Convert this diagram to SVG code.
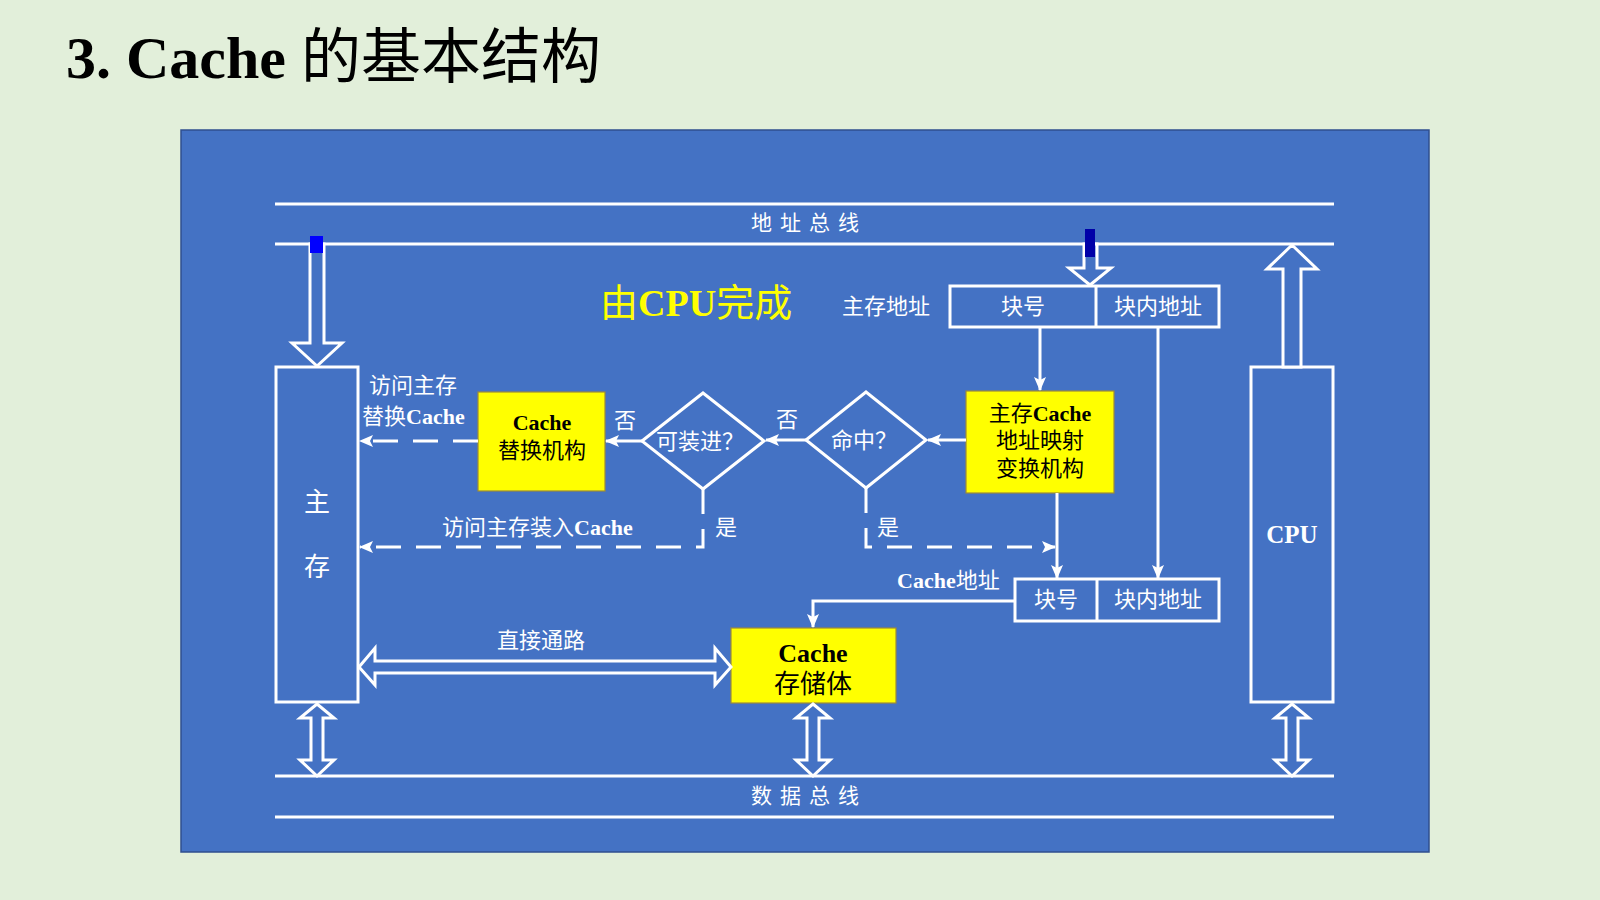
<svg xmlns="http://www.w3.org/2000/svg" width="1600" height="900" viewBox="0 0 1600 900">
<defs>
<style>
.w{stroke:#fff;stroke-width:3;fill:none}
.hollow{stroke:#fff;stroke-width:3;fill:#4472C4;stroke-linejoin:miter}
.ybox{fill:#FFFF00;stroke:#9C8A3A;stroke-width:1.2}
.t{font-family:"Liberation Serif","Noto Sans CJK SC",serif;fill:#fff;font-size:22px}
.tb{font-family:"Liberation Serif","Noto Sans CJK SC",serif;fill:#000;font-size:22px}
.c{text-anchor:middle}
.b{font-weight:bold}
.dash{stroke-dasharray:25 15}
.bus{font-size:21px;letter-spacing:8px}
.big{font-size:26px}
.cpu{font-size:25px}
</style>
<marker id="ah" viewBox="0 0 14 14" refX="13" refY="7" markerWidth="14" markerHeight="14" markerUnits="userSpaceOnUse" orient="auto">
<path d="M0,1 L14,7 L0,13 L3,7 z" fill="#fff"/>
</marker>
</defs>
<rect x="0" y="0" width="1600" height="900" fill="#E2EFDA"/>
<text x="66" y="78" font-family="Liberation Serif,'Noto Sans CJK SC',serif" font-size="60" fill="#000"><tspan font-weight="bold">3. Cache </tspan>的基本结构</text>
<rect id="panel" x="181" y="130" width="1248" height="722" fill="#4472C4" stroke="#2F4F8F" stroke-width="1.5"/>

<g id="address-bus">
<line class="w" x1="275" y1="204" x2="1334" y2="204"/>
<line class="w" x1="275" y1="244" x2="1334" y2="244"/>
<text class="t bus" x="751" y="230">地址总线</text>
</g>
<g id="data-bus">
<line class="w" x1="275" y1="776" x2="1334" y2="776"/>
<line class="w" x1="275" y1="817" x2="1334" y2="817"/>
<text class="t bus" x="751" y="803">数据总线</text>
</g>

<text id="cpu-note" x="600" y="316" font-family="Liberation Serif,'Noto Sans CJK SC',serif" font-size="38" fill="#FFFF00">由<tspan font-weight="bold">CPU</tspan>完成</text>

<g id="main-memory">
<rect class="w" x="276" y="367" width="82" height="335"/>
<text class="t c big" x="317" y="511">主</text>
<text class="t c big" x="317" y="576">存</text>
</g>
<g id="cpu">
<rect class="w" x="1251" y="367" width="82" height="335"/>
<text class="t c b cpu" x="1292" y="543">CPU</text>
</g>

<g id="mm-address">
<text class="t c" x="886" y="314">主存地址</text>
<rect class="w" x="950" y="286" width="269" height="41"/>
<line class="w" x1="1096" y1="286" x2="1096" y2="327"/>
<text class="t c" x="1023" y="314">块号</text>
<text class="t c" x="1158" y="314">块内地址</text>
</g>
<g id="cache-address">
<text class="t" x="897" y="588"><tspan class="b">Cache</tspan>地址</text>
<rect class="w" x="1015" y="579" width="204" height="42"/>
<line class="w" x1="1097" y1="579" x2="1097" y2="621"/>
<text class="t c" x="1056" y="607">块号</text>
<text class="t c" x="1158" y="607">块内地址</text>
</g>

<g id="replace-unit">
<rect class="ybox" x="478" y="392" width="127" height="99"/>
<text class="tb c b" x="542" y="430">Cache</text>
<text class="tb c" x="542" y="458">替换机构</text>
</g>
<g id="mapping-unit">
<rect class="ybox" x="966" y="391" width="148" height="102"/>
<text class="tb c" x="1040" y="421">主存<tspan class="b">Cache</tspan></text>
<text class="tb c" x="1040" y="448">地址映射</text>
<text class="tb c" x="1040" y="476">变换机构</text>
</g>
<g id="cache-storage">
<rect class="ybox" x="731" y="628" width="165" height="75"/>
<text class="tb c b big" x="813" y="662">Cache</text>
<text class="tb c big" x="813" y="693">存储体</text>
</g>

<g id="can-load">
<polygon class="w" points="642,441 703,393 764,441 703,489"/>
<text class="t c" x="700" y="449">可装进？</text>
</g>
<g id="hit">
<polygon class="w" points="806,440 866,392 926,440 866,488"/>
<text class="t c" x="864" y="448">命中？</text>
</g>

<g id="connectors">
<polygon class="hollow" points="310,244 310,343 292,343 317,366 342,343 324,343 324,244"/>
<rect x="310" y="236" width="13" height="17" fill="#0000FF"/>
<polygon class="hollow" points="1084,244 1084,268 1069,268 1090,285 1111,268 1097,268 1097,244"/>
<rect x="1085" y="229" width="10" height="28" fill="#0000A8"/>
<polygon class="hollow" points="1283,367 1283,269 1267,269 1292,245 1317,269 1301,269 1301,367"/>
<polygon class="hollow" points="317,704 334,718 323,718 323,760 334,760 317,776 300,760 311,760 311,718 300,718"/>
<polygon class="hollow" points="813,704 830,718 819,718 819,760 830,760 813,776 796,760 807,760 807,718 796,718"/>
<polygon class="hollow" points="1292,704 1309,718 1298,718 1298,760 1309,760 1292,776 1275,760 1286,760 1286,718 1275,718"/>
<polygon class="hollow" points="359,667 375,648 375,661 715,661 715,648 731,667 715,685 715,673 375,673 375,685"/>

<path class="w dash" d="M478,441 H360" marker-end="url(#ah)"/>
<path class="w" d="M642,441 H606" marker-end="url(#ah)"/>
<path class="w" d="M806,440 H766" marker-end="url(#ah)"/>
<path class="w" d="M966,440 H928" marker-end="url(#ah)"/>
<path class="w dash" d="M703,489 V547 H360" marker-end="url(#ah)"/>
<path class="w dash" d="M866,488 V547 H1055" marker-end="url(#ah)"/>
<path class="w" d="M1040,327 V390" marker-end="url(#ah)"/>
<path class="w" d="M1158,327 V578" marker-end="url(#ah)"/>
<path class="w" d="M1057,493 V578" marker-end="url(#ah)"/>
<path class="w" d="M1015,601 H813 V627" marker-end="url(#ah)"/>

<text class="t" x="369" y="393">访问主存</text>
<text class="t" x="362" y="424">替换<tspan class="b">Cache</tspan></text>
<text class="t c" x="625" y="428">否</text>
<text class="t c" x="787" y="427">否</text>
<text class="t c" x="726" y="535">是</text>
<text class="t c" x="888" y="535">是</text>
<text class="t" x="442" y="535">访问主存装入<tspan class="b">Cache</tspan></text>
<text class="t c" x="541" y="648">直接通路</text>
</g>
</svg>
